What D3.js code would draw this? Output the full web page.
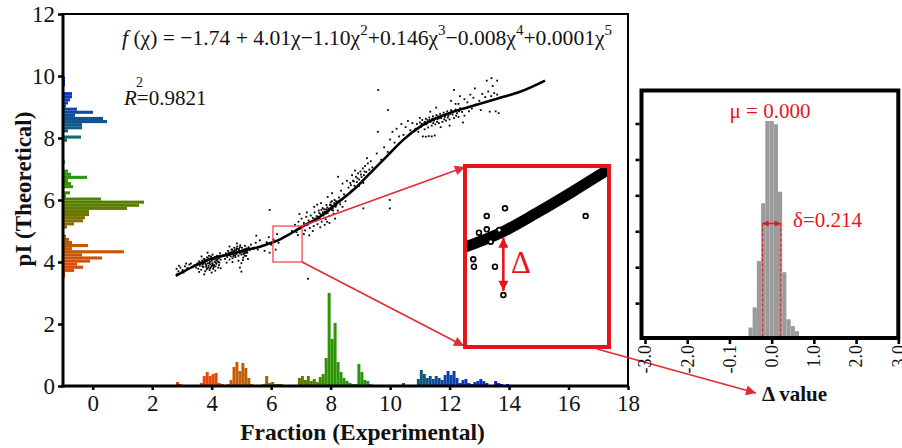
<!DOCTYPE html>
<html>
<head>
<meta charset="utf-8">
<script src="https://cdn.jsdelivr.net/npm/d3@7"></script>
<style>
  html, body { margin: 0; padding: 0; background: #fff; }
  svg { display: block; }
  svg text { font-family: "Liberation Serif", "Times New Roman", Times, "DejaVu Serif", serif; }
</style>
</head>
<body>
<svg id="chart" width="902" height="448"></svg>
<script>
// ---------- data ----------
// fitted trend (fraction -> pI)
const fitX = [2.79, 3.37, 3.94, 4.50, 5.17, 5.62, 6.06, 6.30, 6.55, 6.80, 7.04, 7.64, 8.20, 8.76, 9.32, 9.88, 10.44, 11.00, 11.56, 12.12, 12.68, 13.25, 13.81, 14.37, 15.21];
const fitY = [3.55, 3.85, 4.09, 4.23, 4.39, 4.49, 4.64, 4.73, 4.86, 5.00, 5.14, 5.46, 5.89, 6.32, 6.86, 7.40, 7.94, 8.36, 8.64, 8.85, 9.01, 9.17, 9.33, 9.49, 9.85];

// peptides: [fraction, pI]
const peptides = [
  [2.82,3.78],[2.88,3.70],[2.95,3.82],[3.02,3.74],[3.10,3.86],[3.18,3.80],[2.90,3.88],[3.25,3.92],[3.05,3.66],[3.30,3.95],[2.85,3.62],[3.14,3.95],
  [3.42,3.90],[3.48,3.82],[3.52,3.96],[3.55,3.78],[3.58,4.02],[3.60,3.88],[3.63,3.94],[3.65,3.75],[3.68,4.05],[3.70,3.92],[3.72,3.84],[3.74,4.10],
  [3.76,3.98],[3.78,3.70],[3.80,4.02],[3.82,3.90],[3.84,4.15],[3.85,3.80],[3.87,3.96],[3.88,4.06],[3.90,3.88],[3.91,4.20],[3.93,3.74],[3.94,4.00],
  [3.96,3.92],[3.97,4.12],[3.99,3.84],[4.00,4.04],[4.02,3.96],[4.03,4.24],[4.05,3.78],[4.06,4.08],[4.08,3.90],[4.10,4.00],[4.11,4.16],[4.13,3.86],
  [4.15,4.06],[4.16,3.94],[4.18,4.20],[4.20,4.02],[4.22,3.82],[4.24,4.12],[4.26,3.98],[4.28,4.28],[4.30,4.08],[3.66,4.18],[3.86,4.30],[4.00,3.66],
  [3.75,3.60],[4.12,3.72],[3.58,3.68],[4.25,3.90],[3.95,3.80],[3.81,3.85],[4.07,3.84],[3.71,3.96],
  [3.62,3.98],[3.69,3.86],[3.77,4.08],[3.83,3.76],[3.89,4.12],[3.92,3.96],[3.98,4.18],[4.04,3.92],[4.09,4.10],[4.14,3.98],[4.19,4.08],[4.23,4.00],
  [3.79,3.94],[3.73,4.00],[4.01,3.88],[3.89,3.82],
  [4.40,4.20],[4.45,4.10],[4.48,4.28],[4.52,4.16],[4.55,4.36],[4.58,4.22],[4.60,4.08],[4.62,4.30],[4.64,4.18],[4.66,4.40],[4.68,4.26],[4.70,4.12],
  [4.72,4.34],[4.74,4.22],[4.76,4.46],[4.78,4.30],[4.80,4.16],[4.82,4.38],[4.84,4.26],[4.86,4.50],[4.88,4.32],[4.90,4.20],[4.92,4.42],[4.94,4.28],
  [4.96,4.54],[4.98,4.36],[5.00,4.24],[5.02,4.46],[5.04,4.32],[5.06,4.14],[5.08,4.40],[5.10,4.28],[5.12,4.52],[5.14,4.36],[5.16,4.20],[5.18,4.44],
  [5.20,4.30],[5.24,4.48],[5.28,4.38],[5.32,4.56],[4.70,4.00],[4.90,4.04],[5.05,4.06],[4.60,4.50],[5.22,4.10],[4.85,4.60],[5.00,3.96],[4.50,3.98],
  [4.79,4.22],[4.93,4.34],[5.07,4.26],[4.67,4.32],[4.83,4.44],[5.13,4.42],
  [4.57,4.30],[4.63,4.24],[4.69,4.40],[4.75,4.34],[4.81,4.28],[4.87,4.42],[4.91,4.36],[4.97,4.30],[5.03,4.38],[5.09,4.34],[5.15,4.30],[5.19,4.36],
  [4.73,4.18],[4.95,4.48],[5.11,4.20],[4.77,4.38],
  [5.40,4.46],[5.48,4.62],[5.55,4.40],[5.62,4.70],[5.70,4.52],[5.78,4.36],[5.85,4.64],[5.92,4.80],[6.00,4.56],[6.08,4.72],[6.15,4.40],[6.20,4.90],
  [5.95,4.30],[6.25,4.62],[5.50,4.85],[4.95,3.82],[5.00,3.69],[4.30,3.80],
  [6.70,5.00],[6.80,5.20],[6.85,4.96],[6.92,5.30],[6.98,5.08],[7.02,5.40],[7.06,5.14],[7.10,5.26],[7.14,5.02],[7.18,5.46],[7.22,5.20],[7.26,5.34],
  [7.30,5.10],[7.33,5.50],[7.36,5.28],[7.40,5.42],[7.43,5.16],[7.46,5.60],[7.50,5.36],[7.53,5.48],[7.56,5.22],[7.60,5.66],[7.63,5.40],[7.66,5.54],
  [7.70,5.30],[7.73,5.74],[7.76,5.50],[7.80,5.62],[7.83,5.38],[7.86,5.84],[7.90,5.58],[7.93,5.72],[7.96,5.48],[8.00,5.92],[8.03,5.68],[8.06,5.80],
  [8.10,5.56],[8.13,6.00],[8.16,5.78],[8.20,5.90],[8.24,5.66],[8.28,6.08],[8.32,5.86],[8.36,6.00],[8.40,5.78],[8.45,6.18],[8.50,5.96],[7.20,5.60],
  [7.45,5.78],[7.68,5.90],[7.90,6.10],[7.10,4.90],[7.40,5.00],[7.65,5.12],[7.88,5.30],[8.15,5.40],[6.95,5.55],[7.55,5.85],[8.05,6.22],[8.35,6.30],
  [7.80,5.20],[7.28,4.86],[7.96,5.26],[7.85,5.70],[7.98,5.84],[8.08,5.66],[7.74,5.60],[8.18,5.96],[7.92,5.64],[8.02,5.76],
  [7.62,5.58],[7.72,5.52],[7.78,5.70],[7.84,5.56],[7.89,5.76],[7.95,5.66],[8.01,5.84],[8.07,5.72],[8.12,5.90],[8.19,5.82],[8.26,5.96],[8.31,5.94],
  [7.58,5.46],[7.48,5.40],[7.69,5.68],[8.04,5.96],
  [6.90,4.87],[7.24,3.46],[5.95,5.68],[9.10,5.73],[9.99,6.00],[9.99,5.73],[8.25,6.75],[8.40,6.53],
  [8.60,6.40],[8.66,6.55],[8.70,6.30],[8.75,6.62],[8.80,6.46],[8.85,6.75],[8.88,6.58],[8.92,6.86],[8.96,6.66],[9.00,6.92],[9.04,6.74],[9.08,7.02],
  [9.12,6.80],[9.16,7.10],[9.20,6.90],[9.25,7.18],[9.30,6.98],[9.35,7.25],[8.72,6.80],[8.95,6.45],[9.10,6.55],[9.40,7.05],[8.55,6.62],[8.82,6.95],
  [9.22,7.35],[8.78,6.60],[8.90,6.70],[9.02,6.82],[9.14,6.92],[8.68,6.48],[9.06,6.62],
  [9.55,7.50],[9.70,7.30],[9.80,7.70],[9.92,7.55],[10.00,7.95],[10.08,8.20],[10.15,7.85],[10.22,8.30],[10.30,8.05],[10.38,8.45],[10.45,8.10],
  [10.52,8.35],[10.60,8.55],[10.68,8.25],[10.75,8.48],[9.59,8.20],[9.93,8.90],[9.60,9.55],
  [10.85,8.30],[10.90,8.45],[10.95,8.20],[11.00,8.50],[11.04,8.36],[11.08,8.58],[11.12,8.42],[11.16,8.28],[11.20,8.62],[11.24,8.48],[11.28,8.34],
  [11.32,8.66],[11.36,8.52],[11.40,8.40],[11.44,8.70],[11.48,8.56],[11.52,8.44],[11.56,8.74],[11.60,8.60],[11.64,8.48],[11.68,8.78],[11.72,8.64],
  [11.76,8.52],[11.80,8.82],[11.84,8.68],[11.88,8.56],[11.92,8.86],[11.96,8.72],[12.00,8.60],[12.05,8.90],[12.10,8.76],[12.15,8.64],[12.20,8.92],
  [12.25,8.80],[12.30,8.68],[12.36,8.96],[12.42,8.84],[12.50,8.72],[12.58,8.98],[12.65,8.86],[11.10,8.05],[11.20,8.04],[11.30,8.06],[11.40,8.05],
  [11.50,8.08],[11.00,8.65],[11.35,8.85],[11.70,8.35],[12.00,8.40],[12.30,9.10],[11.55,8.98],[12.45,8.50],[11.18,8.52],[11.46,8.62],[11.62,8.70],
  [11.82,8.60],[11.06,8.46],[11.26,8.58],
  [11.05,8.40],[11.15,8.50],[11.22,8.44],[11.33,8.58],[11.42,8.62],[11.53,8.66],[11.58,8.52],[11.66,8.64],[11.74,8.70],[11.86,8.74],[11.94,8.66],
  [12.02,8.78],[12.12,8.84],[12.22,8.72],[12.32,8.86],[11.45,8.48],
  [12.05,9.20],[12.20,9.10],[12.35,9.35],[12.50,9.25],[12.60,9.15],[12.70,9.40],[12.80,9.30],[12.90,9.08],[13.00,9.20],[13.10,9.42],[13.20,9.32],
  [13.30,9.50],[13.40,9.35],[13.50,9.45],[13.60,9.40],[13.70,9.30],[12.75,8.95],[13.05,8.90],[13.35,8.85],[13.55,8.86],[13.65,8.80],[12.15,9.55],
  [13.25,9.85],[13.45,9.68],[12.85,9.60],[13.41,9.93],[13.60,9.85]
];

// pI histogram along the left axis (bins of 0.1 starting at 3.38)
const pIBinStart = 3.38;
const pICounts = [0,2,2,11,20,14,27,39,19,61,9,25,9,6,3,0,0,4,11,20,22,26,26,64,76,81,38,3,7,1,10,8,5,24,8,5,0,0,2,0,0,0,0,0,0,4,18,1,5,19,19,44,40,12,30,14,3,5,7,9,9,0,0,2,2,2];

// fraction histogram along the bottom axis (bins of 0.1)
const fracBins = [2.8,2.9,3.6,3.7,3.8,3.9,4.0,4.1,4.2,4.3,4.5,4.6,4.7,4.8,4.9,5.0,5.1,5.2,5.3,5.4,5.7,5.8,5.9,6.0,6.1,6.2,6.3,6.9,7.0,7.1,7.2,7.3,7.4,7.5,7.6,7.7,7.8,7.9,8.0,8.1,8.2,8.3,8.4,8.5,8.6,8.7,8.8,8.9,9.0,9.1,9.2,9.3,10.0,10.4,10.6,10.9,11.0,11.1,11.2,11.3,11.4,11.5,11.6,11.7,11.8,11.9,12.0,12.1,12.2,12.3,12.4,12.5,12.6,12.7,12.8,12.9,13.0,13.1,13.2,13.5,13.6,13.7,13.8,13.9];
const fracCounts = [4,2,3,10,14,10,12,13,3,2,2,6,19,24,15,23,18,8,2,1,2,10,3,4,2,2,2,8,10,6,10,5,7,4,9,12,28,93,47,63,24,14,8,5,3,2,2,22,14,6,5,2,1,3,1,7,16,12,8,10,7,10,8,6,11,15,11,15,8,3,6,7,3,2,4,5,7,5,3,5,3,2,1,2];

// residual (Delta) distribution, bin centres and frequencies
const deltaCenters = [-2.0,-1.9,-1.6,-1.2,-1.1,-1.0,-0.7,-0.6,-0.5,-0.4,-0.3,-0.2,-0.1,0.0,0.1,0.2,0.3,0.4,0.5,0.6,0.7,0.8,0.9,1.0,1.1,1.5,1.6,1.7,2.2,2.3];
const deltaFreq = [0.03,0.03,0.02,0.03,0.03,0.03,0.04,0.05,0.32,0.88,2.17,3.78,6.07,6.07,5.98,4.10,1.86,0.55,0.36,0.22,0.08,0.06,0.04,0.04,0.03,0.03,0.03,0.02,0.03,0.03];
const deltaTicks = [-3, -2, -1, 0, 1, 2, 3];
const deltaTickLabels = ["-3.0", "-2.0", "-0.1", "0.0", "1.0", "2.0", "3.0"];
const deltaMean = 0.000;
const deltaSpread = 0.214;

// magnified window and the peptides shown inside it
const zoomWindow = { x0: 6.06, x1: 7.04, y0: 4.0, y1: 5.16 };
const zoomPeptides = [[6.208,4.840],[6.332,4.889],[6.155,4.733],[6.208,4.754],[6.235,4.675],[6.293,4.750],[6.116,4.562],[6.121,4.515],[6.264,4.515],[6.321,4.333],[6.881,4.840]];
const deltaExample = { x: 6.321, from: 4.36, to: 4.70 };

const xTicks = [0, 2, 4, 6, 8, 10, 12, 14, 16, 18];
const yTicks = [0, 2, 4, 6, 8, 10, 12];
const r2 = "0.9821";

// ---------- drawing ----------
const svg = d3.select("#chart");
const RED = "#e8141c";
const LINE_RED = "#e52a32";
const INK = "#111";

const x = d3.scaleLinear().domain([-1, 18]).range([63, 628]);
const y = d3.scaleLinear().domain([0, 12]).range([386, 14]);
const countLen = d3.scaleLinear().domain([0, 100]).range([0, 100]);

const colorPI = d3.scaleLinear()
  .domain([3.5, 4.5, 5.2, 6.0, 7.0, 8.0, 8.8, 9.8])
  .range(["#ee420a", "#c05a06", "#8c6a02", "#4e8200", "#20a010", "#146a6e", "#104c9c", "#0626e6"]);
const colorFrac = d3.scaleLinear()
  .domain([2.9, 4.0, 5.0, 6.0, 7.0, 8.0, 9.0, 10.4, 11.0, 12.0, 13.0, 14.0])
  .range(["#f53c0a", "#e84808", "#c06008", "#8a6c02", "#5e7c00", "#2c9406", "#22980c", "#106a50", "#0e5c78", "#0a40a8", "#0a2ed8", "#0a12f2"]);

// markers
const defs = svg.append("defs");
function marker(id, w, h, color) {
  defs.append("marker").attr("id", id)
    .attr("viewBox", "0 0 10 10").attr("refX", 10).attr("refY", 5)
    .attr("markerWidth", w).attr("markerHeight", h)
    .attr("markerUnits", "userSpaceOnUse").attr("orient", "auto-start-reverse")
    .append("path").attr("d", "M0,0 L10,5 L0,10 Z").attr("fill", color);
}
marker("arrowLink", 14, 10, LINE_RED);
marker("arrowDelta", 15, 10, RED);
marker("arrowSmall", 7, 6, RED);

// left pI histogram
const gLeft = svg.append("g");
pICounts.forEach((c, k) => {
  if (!c) return;
  const lo = pIBinStart + 0.1 * k, hi = lo + 0.1;
  gLeft.append("rect")
    .attr("x", x(-1)).attr("y", y(hi))
    .attr("width", countLen(c)).attr("height", y(lo) - y(hi))
    .attr("fill", colorPI(lo + 0.05));
});

// bottom fraction histogram
const gBottom = svg.append("g");
fracBins.forEach((b, i) => {
  const h = countLen(fracCounts[i]);
  gBottom.append("rect")
    .attr("x", x(b)).attr("y", y(0) - h)
    .attr("width", x(b + 0.1) - x(b)).attr("height", h)
    .attr("fill", colorFrac(b + 0.05));
});

// peptides
svg.append("g").selectAll("rect").data(peptides).join("rect")
  .attr("x", d => x(d[0]) - 0.9).attr("y", d => y(d[1]) - 0.9)
  .attr("width", 1.8).attr("height", 1.8).attr("fill", "#000");

// fitted curve
const fitData = fitX.map((v, i) => [v, fitY[i]]);
svg.append("path").datum(fitData)
  .attr("d", d3.line().x(d => x(d[0])).y(d => y(d[1])).curve(d3.curveMonotoneX))
  .attr("fill", "none").attr("stroke", "#000").attr("stroke-width", 2.6);

// frame and axes
svg.append("rect").attr("x", x(-1)).attr("y", y(12)).attr("width", x(18) - x(-1)).attr("height", y(0) - y(12))
  .attr("fill", "none").attr("stroke", "#000").attr("stroke-width", 2);
svg.append("line").attr("x1", x(-1)).attr("x2", x(-1)).attr("y1", y(12) - 1).attr("y2", y(0) + 1.5)
  .attr("stroke", "#000").attr("stroke-width", 3);
svg.append("line").attr("x1", x(-1) - 1.5).attr("x2", x(18) + 1).attr("y1", y(0)).attr("y2", y(0))
  .attr("stroke", "#000").attr("stroke-width", 3);

const yAxis = d3.axisLeft(y).tickValues(yTicks).tickSize(5).tickPadding(3).tickFormat(d3.format("d"));
const gy = svg.append("g").attr("transform", `translate(${x(-1)},0)`).call(yAxis);
gy.attr("font-family", null);
gy.select(".domain").remove();
gy.selectAll(".tick line").attr("stroke-width", 2.5);
gy.selectAll(".tick text").attr("font-size", 23).attr("fill", INK);

const xAxis = d3.axisBottom(x).tickValues(xTicks).tickSize(4).tickPadding(5).tickFormat(d3.format("d"));
const gx = svg.append("g").attr("transform", `translate(0,${y(0)})`).call(xAxis);
gx.attr("font-family", null);
gx.select(".domain").remove();
gx.selectAll(".tick line").attr("stroke-width", 2.5);
gx.selectAll(".tick text").attr("font-size", 23).attr("fill", INK);

svg.append("text").attr("x", (x(-1) + x(18)) / 2 + 17).attr("y", 440)
  .attr("text-anchor", "middle").attr("font-size", 23.5).attr("font-weight", "bold").attr("fill", INK)
  .text("Fraction (Experimental)");
svg.append("text").attr("transform", "translate(31,189) rotate(-90)")
  .attr("text-anchor", "middle").attr("font-size", 23).attr("font-weight", "bold").attr("fill", INK)
  .text("pI (Theoretical)");

// regression equation
const eq = svg.append("text").attr("x", 122).attr("y", 45).attr("font-size", 21.6).attr("fill", INK);
const eqParts = [
  ["f", "i"], [" (χ) = −1.74 + 4.01χ−1.10χ", ""], ["2", "s"], ["+0.146χ", ""], ["3", "s"],
  ["−0.008χ", ""], ["4", "s"], ["+0.0001χ", ""], ["5", "s"]
];
let raised = false;
eqParts.forEach(([t, kind]) => {
  const ts = eq.append("tspan").text(t);
  if (kind === "i") ts.attr("font-style", "italic");
  if (kind === "s") { ts.attr("font-size", 15).attr("dy", -10); raised = true; }
  else if (raised) { ts.attr("dy", 10); raised = false; }
});

// R squared
svg.append("text").attr("x", 124).attr("y", 105).attr("font-size", 21).attr("fill", INK)
  .call(t => { t.append("tspan").attr("font-style", "italic").text("R"); t.append("tspan").text("=" + r2); });
svg.append("text").attr("x", 136).attr("y", 87).attr("font-size", 14).attr("fill", INK).text("2");

// magnified window
const bx0 = 465, bx1 = 609, by0 = 166, by1 = 347;
const zx = d3.scaleLinear().domain([zoomWindow.x0, zoomWindow.x1]).range([bx0, bx1]);
const zy = d3.scaleLinear().domain([zoomWindow.y0, zoomWindow.y1]).range([by1, by0]);

svg.append("rect").attr("x", x(zoomWindow.x0)).attr("y", y(zoomWindow.y1))
  .attr("width", x(zoomWindow.x1) - x(zoomWindow.x0)).attr("height", y(zoomWindow.y0) - y(zoomWindow.y1))
  .attr("fill", "none").attr("stroke", "#ec3b43").attr("stroke-width", 1.2);

svg.append("line").attr("x1", x(zoomWindow.x1)).attr("y1", y(zoomWindow.y1)).attr("x2", bx0).attr("y2", by0 + 1)
  .attr("stroke", LINE_RED).attr("stroke-width", 1.6).attr("marker-end", "url(#arrowLink)");
svg.append("line").attr("x1", x(zoomWindow.x1)).attr("y1", y(zoomWindow.y0)).attr("x2", bx0 - 1).attr("y2", by1 - 1)
  .attr("stroke", LINE_RED).attr("stroke-width", 1.6).attr("marker-end", "url(#arrowLink)");

defs.append("clipPath").attr("id", "zoomClip").append("rect")
  .attr("x", bx0).attr("y", by0).attr("width", bx1 - bx0).attr("height", by1 - by0);
const gz = svg.append("g").attr("clip-path", "url(#zoomClip)");
gz.append("rect").attr("x", bx0).attr("y", by0).attr("width", bx1 - bx0).attr("height", by1 - by0).attr("fill", "#fff");
gz.append("path").datum(fitData)
  .attr("d", d3.line().x(d => zx(d[0])).y(d => zy(d[1])).curve(d3.curveMonotoneX))
  .attr("fill", "none").attr("stroke", "#000").attr("stroke-width", 11);
gz.selectAll("circle").data(zoomPeptides).join("circle")
  .attr("cx", d => zx(d[0])).attr("cy", d => zy(d[1])).attr("r", 2.4)
  .attr("fill", "#fff").attr("stroke", "#000").attr("stroke-width", 1.7);
svg.append("rect").attr("x", bx0).attr("y", by0).attr("width", bx1 - bx0).attr("height", by1 - by0)
  .attr("fill", "none").attr("stroke", RED).attr("stroke-width", 4);

svg.append("line").attr("x1", zx(deltaExample.x)).attr("x2", zx(deltaExample.x))
  .attr("y1", zy(deltaExample.from)).attr("y2", zy(deltaExample.to))
  .attr("stroke", RED).attr("stroke-width", 2.6)
  .attr("marker-start", "url(#arrowDelta)").attr("marker-end", "url(#arrowDelta)");
svg.append("text").attr("x", 511).attr("y", 273).attr("font-size", 31).attr("fill", RED).text("Δ");

// link to residual histogram
svg.append("line").attr("x1", 597).attr("y1", 349).attr("x2", 756).attr("y2", 393)
  .attr("stroke", LINE_RED).attr("stroke-width", 1.6).attr("marker-end", "url(#arrowLink)");

// residual histogram
const ix = d3.scaleLinear().domain([-3, 3]).range([645, 898.3]);
const iy = d3.scaleLinear().domain([0, 6.85]).range([339, 93]);
const gi = svg.append("g");
deltaCenters.forEach((c, i) => {
  gi.append("rect")
    .attr("x", ix(c - 0.05)).attr("y", iy(deltaFreq[i]))
    .attr("width", ix(c + 0.05) - ix(c - 0.05)).attr("height", iy(0) - iy(deltaFreq[i]))
    .attr("fill", "#9b9b9b");
});

// spread markers
const sL = ix(deltaMean - deltaSpread), sR = ix(deltaMean + deltaSpread), sY = 223.5;
[sL, sR].forEach(px => {
  gi.append("line").attr("x1", px).attr("x2", px).attr("y1", sY).attr("y2", 337)
    .attr("stroke", RED).attr("stroke-width", 1).attr("stroke-dasharray", "3,2");
});
gi.append("line").attr("x1", sL).attr("x2", sR).attr("y1", sY).attr("y2", sY)
  .attr("stroke", RED).attr("stroke-width", 1.6)
  .attr("marker-start", "url(#arrowSmall)").attr("marker-end", "url(#arrowSmall)");
svg.append("text").attr("x", 793).attr("y", 227).attr("font-size", 21).attr("fill", RED)
  .text("δ=" + deltaSpread.toFixed(3));
svg.append("text").attr("x", 770).attr("y", 118).attr("text-anchor", "middle").attr("font-size", 21).attr("fill", RED)
  .text("μ = " + deltaMean.toFixed(3));

svg.append("rect").attr("x", 641.5).attr("y", 90.5).attr("width", 898.3 - 641.5).attr("height", 338 - 90.5)
  .attr("fill", "none").attr("stroke", "#000").attr("stroke-width", 4);

const giy = svg.append("g").attr("transform", "translate(639.5,0)")
  .call(d3.axisLeft(iy).tickValues([1, 2, 3, 4, 5, 6]).tickSize(4).tickFormat(""));
giy.select(".domain").remove();
giy.selectAll(".tick line").attr("stroke-width", 2.6);

const gix = svg.append("g").attr("transform", "translate(0,340)")
  .call(d3.axisBottom(ix).tickValues(deltaTicks).tickSize(4).tickFormat(""));
gix.select(".domain").remove();
gix.selectAll(".tick line").attr("stroke-width", 2.6);
deltaTicks.forEach((t, i) => {
  svg.append("text").attr("transform", `translate(${ix(t)},345) rotate(-90)`)
    .attr("text-anchor", "end").attr("dy", "0.35em").attr("font-size", 18).attr("fill", INK)
    .text(deltaTickLabels[i]);
});

svg.append("text").attr("x", 762).attr("y", 401).attr("font-size", 21).attr("font-weight", "bold").attr("fill", INK)
  .text("Δ value");
</script>
</body>
</html>
